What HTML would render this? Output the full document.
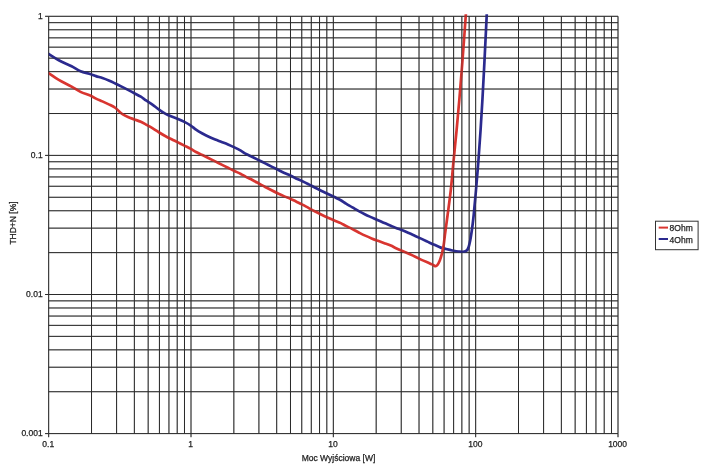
<!DOCTYPE html>
<html><head><meta charset="utf-8"><style>
html,body{margin:0;padding:0;background:#fff;width:708px;height:469px;overflow:hidden}
svg{display:block;will-change:transform}
</style></head><body>
<svg width="708" height="469" viewBox="0 0 708 469">
<rect width="708" height="469" fill="#fff"/>
<g stroke="#2a2a2a" stroke-width="1" fill="none">
<line x1="48.67" y1="16.30" x2="48.67" y2="433.60"/>
<line x1="91.52" y1="16.30" x2="91.52" y2="433.60"/>
<line x1="116.58" y1="16.30" x2="116.58" y2="433.60"/>
<line x1="134.36" y1="16.30" x2="134.36" y2="433.60"/>
<line x1="148.16" y1="16.30" x2="148.16" y2="433.60"/>
<line x1="159.43" y1="16.30" x2="159.43" y2="433.60"/>
<line x1="168.95" y1="16.30" x2="168.95" y2="433.60"/>
<line x1="177.21" y1="16.30" x2="177.21" y2="433.60"/>
<line x1="184.49" y1="16.30" x2="184.49" y2="433.60"/>
<line x1="191.00" y1="16.30" x2="191.00" y2="433.60"/>
<line x1="233.85" y1="16.30" x2="233.85" y2="433.60"/>
<line x1="258.91" y1="16.30" x2="258.91" y2="433.60"/>
<line x1="276.70" y1="16.30" x2="276.70" y2="433.60"/>
<line x1="290.49" y1="16.30" x2="290.49" y2="433.60"/>
<line x1="301.76" y1="16.30" x2="301.76" y2="433.60"/>
<line x1="311.29" y1="16.30" x2="311.29" y2="433.60"/>
<line x1="319.54" y1="16.30" x2="319.54" y2="433.60"/>
<line x1="326.82" y1="16.30" x2="326.82" y2="433.60"/>
<line x1="333.34" y1="16.30" x2="333.34" y2="433.60"/>
<line x1="376.18" y1="16.30" x2="376.18" y2="433.60"/>
<line x1="401.24" y1="16.30" x2="401.24" y2="433.60"/>
<line x1="419.03" y1="16.30" x2="419.03" y2="433.60"/>
<line x1="432.82" y1="16.30" x2="432.82" y2="433.60"/>
<line x1="444.09" y1="16.30" x2="444.09" y2="433.60"/>
<line x1="453.62" y1="16.30" x2="453.62" y2="433.60"/>
<line x1="461.87" y1="16.30" x2="461.87" y2="433.60"/>
<line x1="469.15" y1="16.30" x2="469.15" y2="433.60"/>
<line x1="475.67" y1="16.30" x2="475.67" y2="433.60"/>
<line x1="518.51" y1="16.30" x2="518.51" y2="433.60"/>
<line x1="543.58" y1="16.30" x2="543.58" y2="433.60"/>
<line x1="561.36" y1="16.30" x2="561.36" y2="433.60"/>
<line x1="575.15" y1="16.30" x2="575.15" y2="433.60"/>
<line x1="586.42" y1="16.30" x2="586.42" y2="433.60"/>
<line x1="595.95" y1="16.30" x2="595.95" y2="433.60"/>
<line x1="604.21" y1="16.30" x2="604.21" y2="433.60"/>
<line x1="611.49" y1="16.30" x2="611.49" y2="433.60"/>
<line x1="618.00" y1="16.30" x2="618.00" y2="433.60"/>
<line x1="48.67" y1="433.60" x2="618.00" y2="433.60"/>
<line x1="48.67" y1="391.73" x2="618.00" y2="391.73"/>
<line x1="48.67" y1="367.23" x2="618.00" y2="367.23"/>
<line x1="48.67" y1="349.85" x2="618.00" y2="349.85"/>
<line x1="48.67" y1="336.37" x2="618.00" y2="336.37"/>
<line x1="48.67" y1="325.36" x2="618.00" y2="325.36"/>
<line x1="48.67" y1="316.05" x2="618.00" y2="316.05"/>
<line x1="48.67" y1="307.98" x2="618.00" y2="307.98"/>
<line x1="48.67" y1="300.86" x2="618.00" y2="300.86"/>
<line x1="48.67" y1="294.50" x2="618.00" y2="294.50"/>
<line x1="48.67" y1="252.63" x2="618.00" y2="252.63"/>
<line x1="48.67" y1="228.13" x2="618.00" y2="228.13"/>
<line x1="48.67" y1="210.75" x2="618.00" y2="210.75"/>
<line x1="48.67" y1="197.27" x2="618.00" y2="197.27"/>
<line x1="48.67" y1="186.26" x2="618.00" y2="186.26"/>
<line x1="48.67" y1="176.95" x2="618.00" y2="176.95"/>
<line x1="48.67" y1="168.88" x2="618.00" y2="168.88"/>
<line x1="48.67" y1="161.76" x2="618.00" y2="161.76"/>
<line x1="48.67" y1="155.40" x2="618.00" y2="155.40"/>
<line x1="48.67" y1="113.53" x2="618.00" y2="113.53"/>
<line x1="48.67" y1="89.03" x2="618.00" y2="89.03"/>
<line x1="48.67" y1="71.65" x2="618.00" y2="71.65"/>
<line x1="48.67" y1="58.17" x2="618.00" y2="58.17"/>
<line x1="48.67" y1="47.16" x2="618.00" y2="47.16"/>
<line x1="48.67" y1="37.85" x2="618.00" y2="37.85"/>
<line x1="48.67" y1="29.78" x2="618.00" y2="29.78"/>
<line x1="48.67" y1="22.66" x2="618.00" y2="22.66"/>
<line x1="48.67" y1="16.30" x2="618.00" y2="16.30"/>
<line x1="48.67" y1="433.60" x2="48.67" y2="437.20"/>
<line x1="191.00" y1="433.60" x2="191.00" y2="437.20"/>
<line x1="333.34" y1="433.60" x2="333.34" y2="437.20"/>
<line x1="475.67" y1="433.60" x2="475.67" y2="437.20"/>
<line x1="618.00" y1="433.60" x2="618.00" y2="437.20"/>
<line x1="45.07" y1="16.30" x2="48.67" y2="16.30"/>
<line x1="45.07" y1="155.40" x2="48.67" y2="155.40"/>
<line x1="45.07" y1="294.50" x2="48.67" y2="294.50"/>
<line x1="45.07" y1="433.60" x2="48.67" y2="433.60"/>
</g>
<defs><clipPath id="c"><rect x="48.67" y="14.30" width="569.33" height="419.30"/></clipPath></defs>
<g clip-path="url(#c)" fill="none" stroke-linecap="round" stroke-linejoin="round">
<path d="M48.60,54.00 C52.00,56.07 55.15,58.24 58.80,60.21 C62.77,62.36 67.74,64.35 71.60,66.32 C74.86,67.98 77.35,69.87 80.50,71.17 C83.74,72.51 87.96,73.25 90.80,74.19 C92.84,74.87 94.17,75.52 96.00,76.13 C98.01,76.81 100.28,77.32 102.40,78.04 C104.55,78.78 106.68,79.61 108.80,80.50 C110.95,81.41 113.07,82.43 115.20,83.44 C117.34,84.46 119.47,85.53 121.60,86.60 C123.74,87.67 125.87,88.74 128.00,89.84 C130.14,90.95 132.27,92.07 134.40,93.22 C136.54,94.37 138.81,95.48 140.80,96.72 C142.66,97.89 144.17,99.17 146.00,100.43 C148.01,101.82 150.28,103.20 152.40,104.68 C154.55,106.19 156.65,107.90 158.80,109.41 C160.91,110.88 163.02,112.41 165.20,113.62 C167.29,114.78 169.45,115.69 171.60,116.58 C173.72,117.46 175.88,118.07 178.00,118.94 C180.15,119.83 182.29,120.77 184.40,121.86 C186.56,122.97 188.82,124.24 190.80,125.58 C192.67,126.84 194.14,128.35 196.00,129.63 C197.98,131.00 200.25,132.28 202.40,133.49 C204.51,134.67 206.65,135.79 208.80,136.80 C210.91,137.80 213.06,138.67 215.20,139.52 C217.32,140.37 219.47,141.11 221.60,141.93 C223.74,142.74 225.88,143.51 228.00,144.41 C230.15,145.32 232.28,146.31 234.40,147.35 C236.55,148.40 238.80,149.53 240.80,150.68 C242.65,151.73 244.15,152.91 246.00,153.94 C247.99,155.05 250.27,156.02 252.40,157.06 C254.53,158.11 256.67,159.15 258.80,160.21 C260.93,161.26 263.07,162.33 265.20,163.40 C267.33,164.47 269.47,165.53 271.60,166.60 C273.73,167.67 275.86,168.74 278.00,169.80 C280.13,170.85 282.26,171.92 284.40,172.92 C286.53,173.92 288.79,174.83 290.80,175.79 C292.63,176.67 294.16,177.57 296.00,178.43 C298.01,179.38 300.28,180.23 302.40,181.22 C304.55,182.22 306.67,183.31 308.80,184.39 C310.94,185.48 313.06,186.65 315.20,187.74 C317.33,188.84 319.46,189.91 321.60,190.96 C323.73,192.01 325.87,193.00 328.00,194.02 C330.13,195.04 332.27,196.05 334.40,197.09 C336.54,198.13 338.81,199.13 340.80,200.27 C342.66,201.33 344.16,202.52 346.00,203.64 C348.01,204.87 350.27,206.09 352.40,207.34 C354.54,208.59 356.65,209.92 358.80,211.12 C360.92,212.30 363.05,213.44 365.20,214.49 C367.32,215.52 369.46,216.42 371.60,217.37 C373.73,218.31 375.87,219.21 378.00,220.16 C380.14,221.10 382.26,222.11 384.40,223.04 C386.53,223.96 388.78,224.83 390.80,225.69 C392.63,226.46 394.16,227.20 396.00,227.93 C398.01,228.72 400.28,229.38 402.40,230.21 C404.55,231.05 406.67,232.00 408.80,232.94 C410.94,233.90 413.07,234.92 415.20,235.91 C417.33,236.90 419.47,237.89 421.60,238.89 C423.73,239.88 425.86,240.90 428.00,241.89 C430.13,242.88 432.26,243.88 434.40,244.84 C436.53,245.79 438.75,246.89 440.80,247.60 C442.60,248.23 444.17,248.54 446.00,249.00 C448.02,249.51 450.26,250.08 452.40,250.50 C454.53,250.91 456.72,251.32 458.80,251.50 C460.75,251.67 462.99,252.00 464.50,251.60 C465.62,251.30 466.50,250.78 467.20,250.00 C467.98,249.14 468.34,247.85 468.80,246.50 C469.38,244.79 469.77,242.68 470.20,240.50 C470.71,237.92 471.17,234.88 471.60,232.00 C472.04,229.05 472.44,225.91 472.80,223.00 C473.14,220.26 473.35,218.41 473.70,215.00 C474.31,208.98 475.23,198.71 475.99,190.00 C476.82,180.46 477.70,170.00 478.47,160.00 C479.23,150.00 479.92,140.00 480.58,130.00 C481.23,120.00 481.83,110.00 482.40,100.00 C482.97,90.00 483.49,80.00 484.01,70.00 C484.53,60.00 485.05,49.40 485.51,40.00 C485.92,31.66 486.31,23.55 486.66,16.40 C486.95,10.44 487.19,5.47 487.46,0.00" stroke="#2b2a8f" stroke-width="2.7"/>
<path d="M48.60,73.10 C52.00,75.39 55.14,77.80 58.80,79.96 C62.76,82.31 67.75,84.43 71.60,86.57 C74.87,88.39 77.35,90.38 80.50,91.89 C83.74,93.44 87.99,94.38 90.80,95.69 C92.87,96.65 94.15,97.73 96.00,98.65 C98.00,99.64 100.27,100.43 102.40,101.38 C104.54,102.34 106.68,103.30 108.80,104.36 C110.95,105.43 113.41,106.49 115.20,107.77 C116.71,108.85 117.71,110.18 119.00,111.30 C120.27,112.40 121.46,113.52 122.90,114.46 C124.44,115.46 126.18,116.28 128.00,117.07 C129.99,117.94 132.27,118.62 134.40,119.40 C136.53,120.18 138.81,120.88 140.80,121.78 C142.65,122.62 144.18,123.59 146.00,124.59 C148.03,125.71 150.28,126.91 152.40,128.17 C154.55,129.46 156.66,130.94 158.80,132.26 C160.92,133.56 163.05,134.86 165.20,136.04 C167.31,137.20 169.46,138.22 171.60,139.27 C173.73,140.33 175.87,141.32 178.00,142.38 C180.14,143.45 182.27,144.56 184.40,145.64 C186.53,146.73 188.79,147.79 190.80,148.89 C192.64,149.91 194.15,150.99 196.00,151.98 C198.00,153.05 200.27,154.01 202.40,155.04 C204.54,156.08 206.67,157.14 208.80,158.20 C210.93,159.26 213.07,160.33 215.20,161.40 C217.33,162.47 219.47,163.53 221.60,164.60 C223.73,165.67 225.87,166.74 228.00,167.80 C230.13,168.86 232.26,169.93 234.40,170.96 C236.53,171.98 238.79,172.93 240.80,173.97 C242.64,174.92 244.16,175.93 246.00,176.89 C248.01,177.95 250.28,178.93 252.40,180.02 C254.54,181.12 256.67,182.30 258.80,183.45 C260.94,184.60 263.06,185.80 265.20,186.94 C267.33,188.07 269.46,189.19 271.60,190.28 C273.73,191.36 275.86,192.44 278.00,193.46 C280.12,194.47 282.26,195.46 284.40,196.37 C286.52,197.27 288.79,198.01 290.80,198.90 C292.64,199.72 294.18,200.57 296.00,201.47 C298.02,202.46 300.28,203.51 302.40,204.61 C304.55,205.73 306.66,206.98 308.80,208.14 C310.93,209.29 313.06,210.45 315.20,211.56 C317.33,212.66 319.46,213.72 321.60,214.76 C323.73,215.78 325.86,216.79 328.00,217.74 C330.13,218.70 332.26,219.59 334.40,220.49 C336.53,221.38 338.80,222.17 340.80,223.12 C342.65,223.99 344.17,224.98 346.00,225.92 C348.01,226.97 350.27,228.01 352.40,229.10 C354.54,230.19 356.66,231.38 358.80,232.47 C360.93,233.55 363.05,234.64 365.20,235.63 C367.32,236.61 369.46,237.52 371.60,238.39 C373.72,239.26 375.86,240.04 378.00,240.84 C380.13,241.63 382.27,242.38 384.40,243.17 C386.54,243.96 388.80,244.72 390.80,245.60 C392.65,246.41 394.16,247.35 396.00,248.21 C398.01,249.15 400.27,250.05 402.40,250.98 C404.54,251.92 406.67,252.87 408.80,253.83 C410.94,254.79 413.07,255.73 415.20,256.74 C417.34,257.75 419.31,258.85 421.60,259.89 C424.17,261.07 427.79,262.43 429.90,263.40 C431.23,264.01 432.09,264.51 433.10,265.00 C434.01,265.44 434.95,266.26 435.70,266.20 C436.31,266.15 436.78,265.68 437.30,265.10 C438.16,264.13 439.07,262.14 439.80,260.40 C440.64,258.40 441.27,256.15 441.90,253.70 C442.64,250.83 443.30,247.35 443.80,244.20 C444.29,241.12 444.44,238.65 444.90,235.00 C445.59,229.61 446.67,222.04 447.60,215.00 C448.63,207.13 449.83,198.72 450.80,190.00 C451.86,180.46 452.67,170.00 453.64,160.00 C454.61,150.00 455.68,140.00 456.62,130.00 C457.56,120.00 458.45,110.00 459.30,100.00 C460.15,90.00 460.95,80.00 461.74,70.00 C462.52,60.00 463.32,49.40 464.01,40.00 C464.63,31.66 465.20,23.55 465.71,16.40 C466.14,10.44 466.48,5.47 466.87,0.00" stroke="#d93530" stroke-width="2.7"/>
</g>
<g stroke="#2a2a2a" stroke-width="1" fill="none" opacity="0.35">
<line x1="48.67" y1="16.30" x2="48.67" y2="433.60"/>
<line x1="91.52" y1="16.30" x2="91.52" y2="433.60"/>
<line x1="116.58" y1="16.30" x2="116.58" y2="433.60"/>
<line x1="134.36" y1="16.30" x2="134.36" y2="433.60"/>
<line x1="148.16" y1="16.30" x2="148.16" y2="433.60"/>
<line x1="159.43" y1="16.30" x2="159.43" y2="433.60"/>
<line x1="168.95" y1="16.30" x2="168.95" y2="433.60"/>
<line x1="177.21" y1="16.30" x2="177.21" y2="433.60"/>
<line x1="184.49" y1="16.30" x2="184.49" y2="433.60"/>
<line x1="191.00" y1="16.30" x2="191.00" y2="433.60"/>
<line x1="233.85" y1="16.30" x2="233.85" y2="433.60"/>
<line x1="258.91" y1="16.30" x2="258.91" y2="433.60"/>
<line x1="276.70" y1="16.30" x2="276.70" y2="433.60"/>
<line x1="290.49" y1="16.30" x2="290.49" y2="433.60"/>
<line x1="301.76" y1="16.30" x2="301.76" y2="433.60"/>
<line x1="311.29" y1="16.30" x2="311.29" y2="433.60"/>
<line x1="319.54" y1="16.30" x2="319.54" y2="433.60"/>
<line x1="326.82" y1="16.30" x2="326.82" y2="433.60"/>
<line x1="333.34" y1="16.30" x2="333.34" y2="433.60"/>
<line x1="376.18" y1="16.30" x2="376.18" y2="433.60"/>
<line x1="401.24" y1="16.30" x2="401.24" y2="433.60"/>
<line x1="419.03" y1="16.30" x2="419.03" y2="433.60"/>
<line x1="432.82" y1="16.30" x2="432.82" y2="433.60"/>
<line x1="444.09" y1="16.30" x2="444.09" y2="433.60"/>
<line x1="453.62" y1="16.30" x2="453.62" y2="433.60"/>
<line x1="461.87" y1="16.30" x2="461.87" y2="433.60"/>
<line x1="469.15" y1="16.30" x2="469.15" y2="433.60"/>
<line x1="475.67" y1="16.30" x2="475.67" y2="433.60"/>
<line x1="518.51" y1="16.30" x2="518.51" y2="433.60"/>
<line x1="543.58" y1="16.30" x2="543.58" y2="433.60"/>
<line x1="561.36" y1="16.30" x2="561.36" y2="433.60"/>
<line x1="575.15" y1="16.30" x2="575.15" y2="433.60"/>
<line x1="586.42" y1="16.30" x2="586.42" y2="433.60"/>
<line x1="595.95" y1="16.30" x2="595.95" y2="433.60"/>
<line x1="604.21" y1="16.30" x2="604.21" y2="433.60"/>
<line x1="611.49" y1="16.30" x2="611.49" y2="433.60"/>
<line x1="618.00" y1="16.30" x2="618.00" y2="433.60"/>
<line x1="48.67" y1="433.60" x2="618.00" y2="433.60"/>
<line x1="48.67" y1="391.73" x2="618.00" y2="391.73"/>
<line x1="48.67" y1="367.23" x2="618.00" y2="367.23"/>
<line x1="48.67" y1="349.85" x2="618.00" y2="349.85"/>
<line x1="48.67" y1="336.37" x2="618.00" y2="336.37"/>
<line x1="48.67" y1="325.36" x2="618.00" y2="325.36"/>
<line x1="48.67" y1="316.05" x2="618.00" y2="316.05"/>
<line x1="48.67" y1="307.98" x2="618.00" y2="307.98"/>
<line x1="48.67" y1="300.86" x2="618.00" y2="300.86"/>
<line x1="48.67" y1="294.50" x2="618.00" y2="294.50"/>
<line x1="48.67" y1="252.63" x2="618.00" y2="252.63"/>
<line x1="48.67" y1="228.13" x2="618.00" y2="228.13"/>
<line x1="48.67" y1="210.75" x2="618.00" y2="210.75"/>
<line x1="48.67" y1="197.27" x2="618.00" y2="197.27"/>
<line x1="48.67" y1="186.26" x2="618.00" y2="186.26"/>
<line x1="48.67" y1="176.95" x2="618.00" y2="176.95"/>
<line x1="48.67" y1="168.88" x2="618.00" y2="168.88"/>
<line x1="48.67" y1="161.76" x2="618.00" y2="161.76"/>
<line x1="48.67" y1="155.40" x2="618.00" y2="155.40"/>
<line x1="48.67" y1="113.53" x2="618.00" y2="113.53"/>
<line x1="48.67" y1="89.03" x2="618.00" y2="89.03"/>
<line x1="48.67" y1="71.65" x2="618.00" y2="71.65"/>
<line x1="48.67" y1="58.17" x2="618.00" y2="58.17"/>
<line x1="48.67" y1="47.16" x2="618.00" y2="47.16"/>
<line x1="48.67" y1="37.85" x2="618.00" y2="37.85"/>
<line x1="48.67" y1="29.78" x2="618.00" y2="29.78"/>
<line x1="48.67" y1="22.66" x2="618.00" y2="22.66"/>
<line x1="48.67" y1="16.30" x2="618.00" y2="16.30"/>
<line x1="48.67" y1="433.60" x2="48.67" y2="437.20"/>
<line x1="191.00" y1="433.60" x2="191.00" y2="437.20"/>
<line x1="333.34" y1="433.60" x2="333.34" y2="437.20"/>
<line x1="475.67" y1="433.60" x2="475.67" y2="437.20"/>
<line x1="618.00" y1="433.60" x2="618.00" y2="437.20"/>
<line x1="45.07" y1="16.30" x2="48.67" y2="16.30"/>
<line x1="45.07" y1="155.40" x2="48.67" y2="155.40"/>
<line x1="45.07" y1="294.50" x2="48.67" y2="294.50"/>
<line x1="45.07" y1="433.60" x2="48.67" y2="433.60"/>
</g>
<g font-family="Liberation Sans, sans-serif" font-size="8.5" fill="#1e1e1e" stroke="#1e1e1e" stroke-width="0.25">
<text x="42.67" y="18.70" text-anchor="end">1</text>
<text x="42.67" y="157.80" text-anchor="end">0.1</text>
<text x="42.67" y="296.90" text-anchor="end">0.01</text>
<text x="42.67" y="436.00" text-anchor="end">0.001</text>
<text x="48.27" y="446.60" text-anchor="middle">0.1</text>
<text x="190.60" y="446.60" text-anchor="middle">1</text>
<text x="332.94" y="446.60" text-anchor="middle">10</text>
<text x="475.27" y="446.60" text-anchor="middle">100</text>
<text x="617.60" y="446.60" text-anchor="middle">1000</text>
<text x="338.5" y="460.8" text-anchor="middle">Moc Wyjściowa [W]</text>
<text transform="translate(16.4,223) rotate(-90)" text-anchor="middle">THD+N [%]</text>
<rect x="655.5" y="221.2" width="42.6" height="28.5" fill="#fff" stroke="#333" stroke-width="1"/>
<line x1="658.7" y1="227.6" x2="668" y2="227.6" stroke="#d93530" stroke-width="2"/>
<line x1="658.7" y1="239" x2="668" y2="239" stroke="#2b2a8f" stroke-width="2"/>
<text x="669.6" y="231.3">8Ohm</text>
<text x="669.6" y="242.5">4Ohm</text>
</g>
</svg>
</body></html>
